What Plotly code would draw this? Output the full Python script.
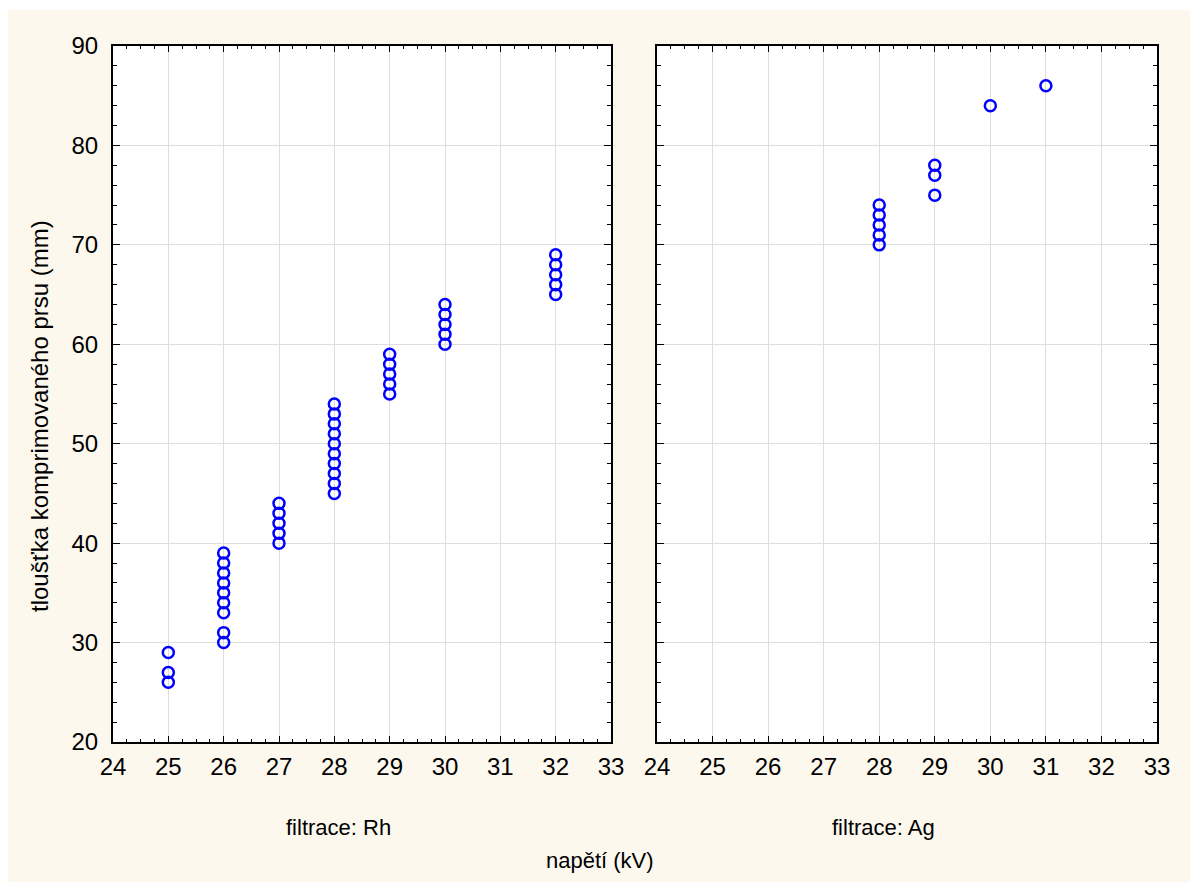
import plotly.graph_objects as go

# Data: filtrace Rh
rh_x = [25, 25, 25,
        26, 26, 26, 26, 26, 26, 26, 26, 26,
        27, 27, 27, 27, 27,
        28, 28, 28, 28, 28, 28, 28, 28, 28, 28,
        29, 29, 29, 29, 29,
        30, 30, 30, 30, 30,
        32, 32, 32, 32, 32]
rh_y = [26, 27, 29,
        30, 31, 33, 34, 35, 36, 37, 38, 39,
        40, 41, 42, 43, 44,
        45, 46, 47, 48, 49, 50, 51, 52, 53, 54,
        55, 56, 57, 58, 59,
        60, 61, 62, 63, 64,
        65, 66, 67, 68, 69]
# Data: filtrace Ag
ag_x = [28, 28, 28, 28, 28, 29, 29, 29, 30, 31]
ag_y = [70, 71, 72, 73, 74, 75, 77, 78, 84, 86]

x_ticks = list(range(24, 34))
y_ticks = list(range(20, 100, 10))

W, H = 1195, 882
L, R, T, B = 113, 38, 46, 140
pw, ph = W - L - R, H - T - B

FONT = "Liberation Sans, Arial, sans-serif"
blue = "#0000ff"
cream = "#fdf8ee"

fig = go.Figure()
marker = dict(symbol="circle-open", size=11, color=blue, line=dict(width=2.5, color=blue))
fig.add_trace(go.Scatter(x=rh_x, y=rh_y, mode="markers", marker=marker, xaxis="x", yaxis="y", showlegend=False))
fig.add_trace(go.Scatter(x=ag_x, y=ag_y, mode="markers", marker=marker, xaxis="x2", yaxis="y2", showlegend=False))

def xax(domain, anchor):
    return dict(domain=domain, anchor=anchor, range=[24, 33], tickvals=x_ticks,
                ticktext=[str(v) for v in x_ticks],
                showgrid=True, gridcolor="#dedede", gridwidth=1,
                showline=True, linecolor="black", linewidth=2, mirror="ticks",
                ticks="inside", ticklen=6, tickcolor="black", tickwidth=1,
                minor=dict(dtick=0.25, ticks="inside", ticklen=3, tickcolor="black", showgrid=False),
                zeroline=False, tickfont=dict(size=24, color="black", family=FONT),
                ticklabelstandoff=2)

def yax(anchor, labels):
    return dict(domain=[0, 1], anchor=anchor, range=[20, 90], tickvals=y_ticks,
                showgrid=True, gridcolor="#dedede", gridwidth=1,
                showline=True, linecolor="black", linewidth=2, mirror="ticks",
                ticks="inside", ticklen=7, tickcolor="black", tickwidth=1,
                minor=dict(dtick=2, ticks="inside", ticklen=4, tickcolor="black", showgrid=False),
                zeroline=False, showticklabels=labels,
                tickfont=dict(size=24, color="black", family=FONT),
                ticklabelstandoff=8)

d1 = [0, (611 - L) / pw]
d2 = [(657 - L) / pw, 1]

def px_x(v):
    return (v - L) / pw

def px_y(v):
    return (H - B - v) / ph

fig.update_layout(
    width=W, height=H,
    margin=dict(l=L, r=R, t=T, b=B),
    paper_bgcolor="white", plot_bgcolor="white",
    font=dict(family=FONT, color="black"),
    xaxis=xax(d1, "y"), yaxis=yax("x", True),
    xaxis2=xax(d2, "y2"), yaxis2=yax("x2", False),
    shapes=[
        dict(type="rect", xref="paper", yref="paper", layer="below",
             x0=px_x(8), x1=px_x(1190), y0=px_y(882), y1=px_y(10),
             fillcolor=cream, line=dict(width=0)),
        dict(type="rect", xref="x domain", yref="y domain", layer="below",
             x0=0, x1=1, y0=0, y1=1, fillcolor="white", line=dict(width=0)),
        dict(type="rect", xref="x2 domain", yref="y2 domain", layer="below",
             x0=0, x1=1, y0=0, y1=1, fillcolor="white", line=dict(width=0)),
    ],
    annotations=[
        dict(text="filtrace: Rh", xref="paper", yref="paper",
             x=px_x(338), y=px_y(827), showarrow=False,
             xanchor="center", yanchor="middle", font=dict(size=22, family=FONT)),
        dict(text="filtrace: Ag", xref="paper", yref="paper",
             x=px_x(883), y=px_y(827), showarrow=False,
             xanchor="center", yanchor="middle", font=dict(size=22, family=FONT)),
        dict(text="napětí (kV)", xref="paper", yref="paper",
             x=px_x(600), y=px_y(860), showarrow=False,
             xanchor="center", yanchor="middle", font=dict(size=22, family=FONT)),
        dict(text="tloušťka komprimovaného prsu (mm)", xref="paper", yref="paper",
             x=px_x(40), y=px_y(416), showarrow=False, textangle=-90,
             xanchor="center", yanchor="middle", font=dict(size=24, family=FONT)),
    ],
)

fig.write_html("out.html")
